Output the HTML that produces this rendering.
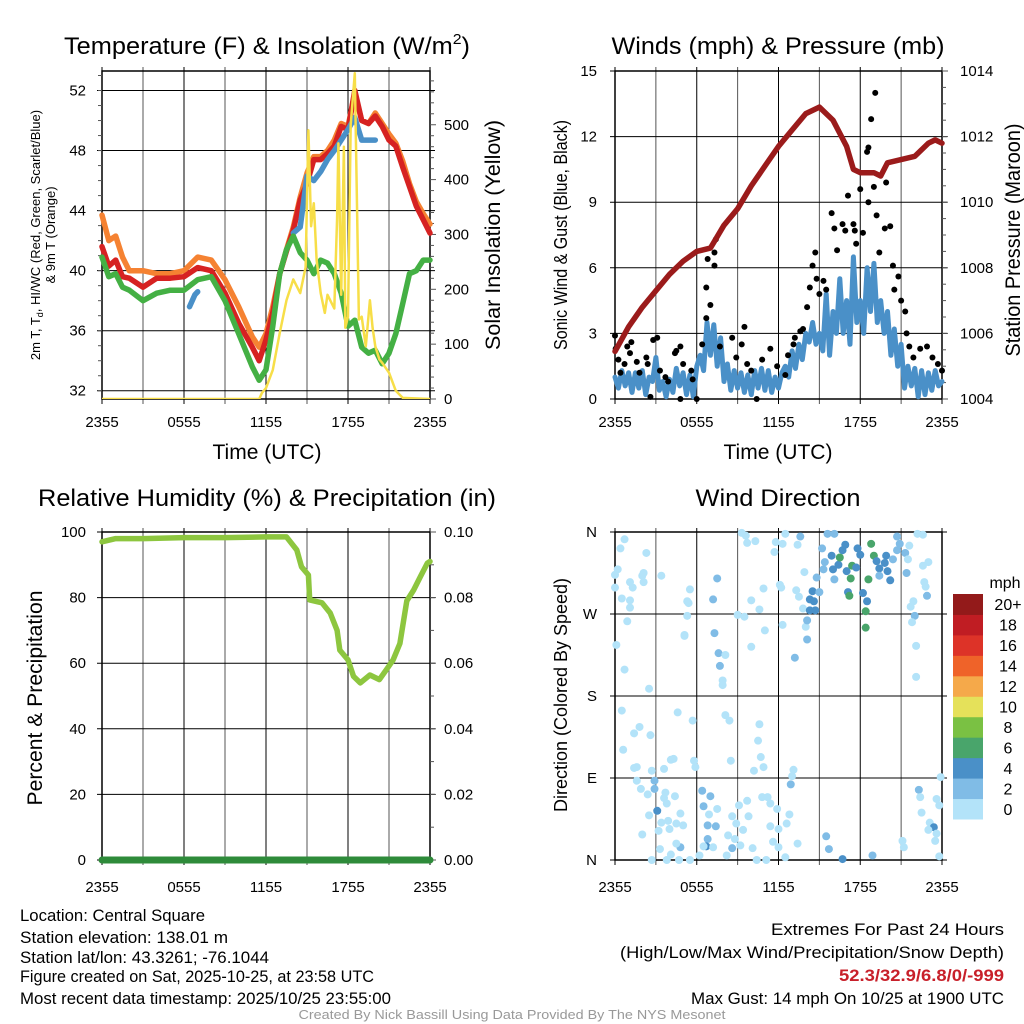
<!DOCTYPE html>
<html><head><meta charset="utf-8"><style>
html,body{margin:0;padding:0;background:#fff}
svg{display:block;font-family:"Liberation Sans",sans-serif}
</style></head><body>
<svg id="fig" width="1024" height="1024" viewBox="0 0 1024 1024" xmlns="http://www.w3.org/2000/svg">
<rect width="1024" height="1024" fill="#fff"/>
<g id="static" fill="#000">
<text x="267" y="54" font-size="24" text-anchor="middle" textLength="406" lengthAdjust="spacingAndGlyphs">Temperature (F) &amp; Insolation (W/m<tspan font-size="15" dy="-10">2</tspan><tspan dy="10">)</tspan></text>
<text x="778" y="54" font-size="24" text-anchor="middle" textLength="333" lengthAdjust="spacingAndGlyphs">Winds (mph) &amp; Pressure (mb)</text>
<text x="267" y="506" font-size="24" text-anchor="middle" textLength="458" lengthAdjust="spacingAndGlyphs">Relative Humidity (%) &amp; Precipitation (in)</text>
<text x="778" y="506" font-size="24" text-anchor="middle" textLength="165" lengthAdjust="spacingAndGlyphs">Wind Direction</text>
<text transform="translate(40,235) rotate(-90)" font-size="13" text-anchor="middle">2m T, T<tspan font-size="9" dy="3">d</tspan><tspan dy="-3">, HI/WC (Red, Green, Scarlet/Blue)</tspan></text>
<text transform="translate(55,235) rotate(-90)" font-size="13" text-anchor="middle">&amp; 9m T (Orange)</text>
<text transform="translate(500,235) rotate(-90)" font-size="21" text-anchor="middle" textLength="230" lengthAdjust="spacingAndGlyphs">Solar Insolation (Yellow)</text>
<text x="267" y="459" font-size="21" text-anchor="middle" textLength="109" lengthAdjust="spacingAndGlyphs">Time (UTC)</text>
<text x="778" y="459" font-size="21" text-anchor="middle" textLength="109" lengthAdjust="spacingAndGlyphs">Time (UTC)</text>
<text transform="translate(567,235) rotate(-90)" font-size="18" text-anchor="middle" textLength="230" lengthAdjust="spacingAndGlyphs">Sonic Wind &amp; Gust (Blue, Black)</text>
<text transform="translate(1020,240) rotate(-90)" font-size="21" text-anchor="middle" textLength="233" lengthAdjust="spacingAndGlyphs">Station Pressure (Maroon)</text>
<text transform="translate(42,698) rotate(-90)" font-size="21" text-anchor="middle" textLength="215" lengthAdjust="spacingAndGlyphs">Percent &amp; Precipitation</text>
<text transform="translate(567,695) rotate(-90)" font-size="18" text-anchor="middle" textLength="234" lengthAdjust="spacingAndGlyphs">Direction (Colored By Speed)</text>
<text x="1005" y="588" font-size="16" text-anchor="middle">mph</text>
<g font-size="16.5" lengthAdjust="spacingAndGlyphs">
<text x="20" y="921" textLength="185" lengthAdjust="spacingAndGlyphs">Location: Central Square</text>
<text x="20" y="943" textLength="208" lengthAdjust="spacingAndGlyphs">Station elevation: 138.01 m</text>
<text x="20" y="963" textLength="249" lengthAdjust="spacingAndGlyphs">Station lat/lon: 43.3261; -76.1044</text>
<text x="20" y="982" textLength="354" lengthAdjust="spacingAndGlyphs">Figure created on Sat, 2025-10-25, at 23:58 UTC</text>
<text x="20" y="1004" textLength="371" lengthAdjust="spacingAndGlyphs">Most recent data timestamp: 2025/10/25 23:55:00</text>
</g>
<g font-size="16.5" text-anchor="end">
<text x="1004" y="935" textLength="233" lengthAdjust="spacingAndGlyphs">Extremes For Past 24 Hours</text>
<text x="1004" y="958" textLength="384" lengthAdjust="spacingAndGlyphs">(High/Low/Max Wind/Precipitation/Snow Depth)</text>
<text x="1004" y="981" fill="#c8202a" font-weight="bold" textLength="165" lengthAdjust="spacingAndGlyphs">52.3/32.9/6.8/0/-999</text>
<text x="1004" y="1004" textLength="313" lengthAdjust="spacingAndGlyphs">Max Gust: 14 mph On 10/25 at 1900 UTC</text>
</g>
<text x="512" y="1019" font-size="12.5" fill="#999" text-anchor="middle" textLength="427" lengthAdjust="spacingAndGlyphs">Created By Nick Bassill Using Data Provided By The NYS Mesonet</text>
</g>
</svg>
<script>
// ---- data ----
const timeLabels=["2355","0555","1155","1755","2355"];
const tempTicks=[32,36,40,44,48,52];
const insolTicks=[0,100,200,300,400,500];
const windTicks=[0,3,6,9,12,15];
const presTicks=[1004,1006,1008,1010,1012,1014];
const rhTicks=[0,20,40,60,80,100];
const precipTicks=["0.00","0.02","0.04","0.06","0.08","0.10"];
const dirTicks=["N","E","S","W","N"];
const speedLabels=["0","2","4","6","8","10","12","14","16","18","20+"];
const speedColors=["#b3e3f9","#80bce6","#4a90c8","#49a56b","#7ac143","#e5e15a","#f5a94a","#ef6329","#dd3328","#c01d23","#931a1a"];

const tHours=[0,0.5,1,1.5,2,3,4,5,6,7,8,9,10,11,11.5,12,12.5,13,13.5,14,14.5,15,15.5,16,16.5,17,17.5,18,18.5,19,19.5,20,20.5,21,21.5,22,22.5,23,23.5,24];
const temp2m=[41.6,40.3,40.7,39.6,39.5,38.9,39.5,39.5,39.6,40.2,40,38.5,36.5,34.9,34,35.4,37.2,39.8,41.3,42.7,44.7,45.8,47.4,47.4,47.8,48.3,49.6,49.4,52,50,49.8,50.3,49.6,48.7,48.3,46.9,45.6,44.3,43.4,42.5];
const temp9m=[43.7,42,42.3,40.9,40,40,39.8,39.8,40,40.9,40.7,39.4,37.6,35.6,34.9,35.8,37.6,39.8,41.4,42.9,44.9,46.5,47.6,47.6,48,48.7,49.8,49.6,51.8,50,49.8,50.5,49.8,49.1,48.5,47.3,45.8,44.6,43.8,43.1];
const dewpt=[40.9,39.6,39.8,38.9,38.7,38,38.5,38.7,38.7,39.4,39.6,38,35.8,33.6,32.7,33.4,36.3,39.8,41.4,42.3,41.2,40.7,39.8,40.7,40.5,39.8,38.5,36.3,36.7,34.9,34.5,34.7,33.8,34.5,35.8,37.8,39.8,40,40.7,40.7];
const hiwcHours=[6.4,6.6,6.8,7.0,null,14,14.5,15,15.5,16,16.5,17,17.5,18,18.5,19,19.5,20];
const hiwcVals=[37.6,38,38.4,38.6,null,42.5,42.9,46.3,46,46.6,47.4,48,48.7,49.4,50.2,48.7,48.7,48.7];
const insHours=[0,11.5,11.7,12,12.5,13,13.5,14,14.5,14.9,15.1,15.3,15.5,15.7,16,16.3,16.5,17,17.2,17.3,17.5,17.7,17.8,18,18.2,18.5,18.8,19,19.3,19.6,19.8,20,20.3,20.5,21,21.5,22,24];
const insVals=[0,0,11,20,53,120,180,218,193,240,490,315,357,254,193,157,190,165,330,466,190,460,130,150,500,594,145,150,96,180,130,96,72,66,48,15,2,0];

const windHour0=0, windStep=0.25;
const windSpeed=[1.0,0.5,1.3,0.6,1.2,0.3,1.2,0.5,1.3,0.2,1.0,0.8,1.9,0.4,0.8,0.1,0.9,0.3,1.4,0.6,1.2,0.2,1.1,0.1,1.5,2.0,1.3,3.5,2.0,3.4,1.5,2.8,0.8,1.6,0.4,1.3,0.5,1.2,0.3,1.1,0.2,1.3,0.5,1.4,0.4,1.3,0.3,1.0,0.5,1.2,1.5,1.0,2.2,1.4,2.5,1.8,3.0,2.6,3.5,2.5,3.0,2.2,4.8,2.0,4.0,3.0,5.5,3.0,4.5,2.5,6.5,3.5,4.5,3.0,6.0,4.0,6.2,3.5,4.5,3.0,4.0,2.0,3.2,1.5,2.5,0.5,1.5,0.6,1.4,0.1,1.3,0.2,1.2,0.4,1.3,0.6,0.8];
const gustHours=[0,0.05,0.25,0.4,0.7,0.9,1.2,1.1,1.6,1.8,2.3,2.4,2.8,3.1,3.3,3.7,3.9,4.4,4.8,4.5,5.0,5.6,5.7,6.4,6.7,6.7,7.0,7.3,7.3,7.4,6.8,7.7,8.6,8.9,9.3,9.5,9.7,10.0,10.8,11.4,11.9,12.7,13.1,13.2,13.6,13.8,14.1,14.3,14.5,14.7,14.8,15.0,15.3,15.5,15.9,16.1,16.3,16.7,16.9,17.1,17.5,17.6,17.7,18.0,18.2,18.5,18.6,18.8,19.1,19.0,18.6,19.2,19.4,19.8,20.2,19.9,20.4,20.5,20.8,21.0,21.3,21.4,21.6,21.9,22.4,22.9,23.3,23.7,24.0,4.8,6.0,10.4,12.5,2.6];
const gustVals=[2.9,2.3,1.8,1.2,1.6,2.4,2.6,2.1,1.7,1.2,1.9,1.6,2.7,2.8,1.3,1.0,0.8,2.1,2.4,2.2,1.6,1.3,0.9,2.5,3.7,5.1,4.3,6.1,6.7,7.3,6.4,2.4,2.8,1.9,2.5,3.3,1.6,1.3,1.8,2.3,1.5,2.0,2.5,2.8,3.1,3.2,4.2,5.1,6.1,6.7,5.5,4.8,5.4,5.0,8.5,7.8,6.8,8.0,7.7,9.3,8.0,7.7,7.1,9.6,7.6,11.3,11.5,12.8,14.0,9.7,9.0,8.4,6.7,7.8,7.9,9.9,6.1,5.0,5.6,4.5,4.0,3.0,2.4,1.9,2.3,2.4,1.9,1.6,1.3,0,0,0,1.1,0.1];
const presHours=[0,1,2,3,4,5,6,7,8,9,10,11,12,13,14,15,16,17,17.5,18,19,19.5,20,21,22,23,23.5,24];
const presVals=[1005.45,1006.2,1006.8,1007.3,1007.8,1008.2,1008.5,1008.6,1009.3,1009.8,1010.5,1011.1,1011.7,1012.2,1012.7,1012.9,1012.5,1011.7,1011.0,1010.9,1010.9,1010.8,1011.2,1011.3,1011.4,1011.8,1011.9,1011.8];

const rhHours=[0,1,3,6,9,12,13.5,14.25,14.6,15.1,15.2,16.1,16.7,17.2,17.4,18,18.4,18.9,19.6,20.3,20.8,21.3,21.8,22.3,22.8,23.3,23.8,24];
const rhVals=[97,98,98,98.3,98.3,98.5,98.5,94.5,89.4,86.9,79.3,78.4,75.3,70,64,61,56,54,56.4,55,58,61,66,79,82.3,86.4,90.5,91];
const precipHours=[0,24];
const precipVals=[0,0];

const dirHours=[0.7,0.4,2.3,0.2,0,2.1,2.0,3.4,1.1,1.3,2.1,0,0.5,1.1,1.1,5.5,5.3,5.4,7.5,7.2,5.3,0.9,5.1,5.1,0.1,7.3,7.6,8.1,7.7,7.9,7.9,0.7,2.5,9.3,9.6,9.7,10.3,10.9,10.0,10.6,9.0,9.5,11.0,10.0,11.7,11.8,12.3,12.5,12.1,12.2,12.3,13.3,13.5,13.6,13.4,13.9,13.8,14.0,14.1,14.1,13.2,14.3,14.5,14.3,14.7,14.6,14.8,15.0,15.2,15.3,15.4,15.6,16.1,15.9,16.0,16.4,16.5,16.7,16.9,16.1,17.0,17.1,17.2,17.3,17.4,17.7,17.8,18.0,18.2,18.5,18.4,18.4,18.6,18.8,19.0,19.2,19.4,19.8,19.9,20.0,20.2,19.4,20.4,20.7,20.7,20.9,21.3,21.4,21.5,21.6,21.9,22.0,21.8,21.7,22.1,22.1,22.2,22.6,23.0,22.6,22.7,22.8,22.9,23.9,
0.5,1.8,1.4,2.6,0.6,1.4,1.6,2.7,3.6,4.1,4.3,4.6,5.7,8.1,8.4,10.6,10.5,10.7,10.9,10.2,8.5,5.8,5.9,13.1,13.0,12.9,2.9,1.6,2.9,1.9,2.4,3.6,3.7,4.4,3.8,3.1,2.5,3.4,3.9,4.5,5.0,4.0,3.2,2.0,4.8,6.4,7.0,6.5,6.9,7.5,6.8,7.4,6.8,6.7,6.5,7.2,4.8,4.5,3.3,4.1,3.8,2.7,4.7,5.5,6.2,8.2,8.3,8.8,8.6,9.2,8.9,9.4,8.6,9.1,9.8,9.7,10.8,11.2,11.4,11.9,12.8,12.6,12.0,11.4,10.1,10.4,11.1,11.6,12.0,12.5,13.4,15.5,15.7,16.7,18.9,21.1,21.2,22.3,22.4,22.5,23.1,23.4,23.0,23.6,23.5,23.6,23.8,23.8];
const dirDegrees=[352,342,337,319,313,315,312,312,305,299,305,299,287,285,277,297,284,282,309,286,268,262,247,246,236,249,227,225,213,197,192,209,188,359,356,348,350,298,285,275,269,267,252,234,338,349,347,358,302,299,258,296,289,355,346,316,276,256,263,242,222,286,295,274,274,284,310,294,342,319,327,358,358,334,319,324,332,340,346,308,317,294,290,309,323,321,342,335,293,284,273,255,308,347,334,328,320,326,334,317,307,312,330,355,340,347,337,315,330,345,284,268,261,278,235,201,358,357,327,323,305,300,290,91,
164,146,139,137,121,101,102,98,100,110,111,162,153,159,153,149,131,113,102,98,109,109,102,99,92,83,87,87,78,78,72,68,74,70,62,54,49,41,43,40,38,34,32,28,51,76,70,59,50,56,38,37,23,15,15,14,14,18,12,6,0,0,0,0,5,5,27,23,13,16,40,33,48,60,48,65,69,69,62,56,50,40,34,37,13,0,0,20,14,3,18,26,12,1,5,21,14,77,69,52,41,36,33,29,21,67,60,4];
const dirSpeeds=[1,1,1,1,1,1,1,1,1,1,1,1,1,1,1,1,1,1,3,3,1,1,1,1,1,3,3,1,3,1,1,1,1,1,1,1,1,1,1,1,1,1,1,1,1,1,1,1,1,1,1,1,1,3,1,1,1,1,3,3,3,5,5,5,5,5,3,3,3,3,3,3,3,5,5,5,7,5,5,3,5,5,7,7,7,5,5,5,5,5,7,7,7,7,7,5,5,5,5,5,5,3,3,3,3,3,3,3,1,1,1,3,1,1,1,1,1,1,1,1,1,1,3,1,
1,1,1,1,1,1,1,1,1,1,1,1,1,1,1,1,1,1,1,1,1,1,1,1,1,3,3,1,3,1,1,1,1,1,1,5,1,1,1,1,1,1,1,1,1,3,3,3,1,1,3,3,3,5,1,1,3,1,1,1,1,1,1,1,1,1,1,1,3,1,1,1,1,1,1,1,1,1,1,1,1,1,1,1,1,1,1,1,1,1,1,3,3,5,3,1,1,3,1,1,1,5,1,1,1,1,1,1];

// ---- drawing ----
const NS="http://www.w3.org/2000/svg";
const svg=document.getElementById('fig');
function el(tag,attrs,parent){const e=document.createElementNS(NS,tag);for(const k in attrs)e.setAttribute(k,attrs[k]);(parent||svg).appendChild(e);return e;}
const P1={x0:102,x1:430,y0:71,y1:399}, P2={x0:615,x1:942,y0:71,y1:399};
const P3={x0:102,x1:430,y0:532,y1:860}, P4={x0:615,x1:942,y0:532,y1:860};
function xs(P){return h=>P.x0+(P.x1-P.x0)*h/24;}
function ys(P,lo,hi){return v=>P.y1-(P.y1-P.y0)*(v-lo)/(hi-lo);}

function grid(P,yvals,ysc,name){
  const g=el('g',{stroke:'#000','stroke-width':1});
  
  
  const X=xs(P);
  for(let h=0;h<=24;h+=3){el('line',{x1:X(h),x2:X(h),y1:P.y0-4,y2:P.y1+5,stroke:(h%6==0)?'#000':'#555'},g);}
  yvals.forEach(v=>el('line',{x1:P.x0-5,x2:P.x1+5,y1:ysc(v),y2:ysc(v)},g));
  const b=el('rect',{x:P.x0,y:P.y0,width:P.x1-P.x0,height:P.y1-P.y0,fill:'none',stroke:'#000','stroke-width':1.5});
  
  
}
function xlabels(P,y){
  const X=xs(P);
  timeLabels.forEach((t,i)=>{const e=el('text',{x:X(i*6),y:y,'font-size':15,'text-anchor':'middle'});e.textContent=t;
    
    });
}
function ylabels(vals,ysc,x,anchor,fmt){
  vals.forEach(v=>{const e=el('text',{x:x,y:ysc(typeof v==='string'?parseFloat(v):v)+5,'font-size':15,'text-anchor':anchor});e.textContent=fmt?fmt(v):v;
    
    });
}
function path(hours,vals,X,Y,attrs,name){
  let d='',pen=false;
  for(let i=0;i<hours.length;i++){if(hours[i]===null||vals[i]===null){pen=false;continue;}
    d+=(pen?'L':'M')+X(hours[i]).toFixed(1)+','+Y(vals[i]).toFixed(1);pen=true;}
  const p=el('path',Object.assign({d:d,fill:'none','stroke-linejoin':'round','stroke-linecap':'round'},attrs));
  
  
  return p;
}
function clip(P,id){const c=el('clipPath',{id:id});el('rect',{x:P.x0,y:P.y0,width:P.x1-P.x0,height:P.y1-P.y0},c);}

// Panel 1
{const X=xs(P1),Y=ys(P1,31.45,53.3),YI=ys(P1,0,598);
grid(P1,tempTicks,Y,'temperature');
for(let w=0;w<=580;w+=20){el('line',{x1:P1.x1,x2:P1.x1+(w%100==0?6:4),y1:YI(w),y2:YI(w),stroke:'#555'});}
for(let t=32;t<=53;t++){el('line',{x1:P1.x0-4,x2:P1.x0,y1:Y(t),y2:Y(t),stroke:'#555'});}
ylabels(tempTicks,Y,86,'end');ylabels(insolTicks,YI,444,'start');xlabels(P1,427);
clip(P1,'c1');
path(tHours,temp9m,X,Y,{stroke:'#f58232','stroke-width':5.5},'series-9m-temp');
path(tHours,temp2m,X,Y,{stroke:'#d62222','stroke-width':5.5},'series-2m-temp');
path(hiwcHours,hiwcVals,X,Y,{stroke:'#4a90c8','stroke-width':5.5},'series-heat-index-wind-chill');
path(tHours,dewpt,X,Y,{stroke:'#44b044','stroke-width':5.5},'series-dewpoint');
path(insHours,insVals,X,YI,{stroke:'#f7de48','stroke-width':2.5,'clip-path':'url(#c1)'},'series-insolation');}

// Panel 2
{const X=xs(P2),Y=ys(P2,0,15),YP=ys(P2,1004,1014);
grid(P2,windTicks,Y,'wind');
for(let p=1004;p<=1014;p+=0.5){el('line',{x1:P2.x1,x2:P2.x1+(p%2==0?6:4),y1:YP(p),y2:YP(p),stroke:'#555'});}
ylabels(windTicks,Y,597,'end');ylabels(presTicks,YP,960,'start');xlabels(P2,427);
const wh=windSpeed.map((v,i)=>windHour0+i*windStep);
path(wh,windSpeed,X,Y,{stroke:'#4a90c8','stroke-width':5},'series-sonic-wind');
gustHours.forEach((h,i)=>{const c=el('circle',{cx:X(h),cy:Y(gustVals[i]),r:3,fill:'#000'});
  
  });
path(presHours,presVals,X,YP,{stroke:'#9b1b1b','stroke-width':5.5},'series-pressure');}

// Panel 3
{const X=xs(P3),Y=ys(P3,0,100),YR=ys(P3,0,0.1);
grid(P3,rhTicks,Y,'humidity');
for(let p=0;p<=10;p++){el('line',{x1:P3.x1,x2:P3.x1+(p%2==0?6:4),y1:YR(p/100),y2:YR(p/100),stroke:'#555'});}
ylabels(rhTicks,Y,86,'end');ylabels(precipTicks,YR,444,'start');xlabels(P3,892);
path(rhHours,rhVals,X,Y,{stroke:'#8dc63f','stroke-width':5.5},'series-relative-humidity');
path(precipHours,precipVals,X,YR,{stroke:'#2e8b3a','stroke-width':7},'series-precipitation');}

// Panel 4
{const X=xs(P4),Y=ys(P4,0,360);
grid(P4,[0,90,180,270,360],Y,'direction');
dirTicks.forEach((t,i)=>{const e=el('text',{x:597,y:Y(i*90)+5,'font-size':15,'text-anchor':'end'});e.textContent=t;
  
  });
xlabels(P4,892);
dirHours.forEach((h,i)=>{const s=dirSpeeds[i];const ci=Math.min(10,Math.floor(s/2));
  const c=el('circle',{cx:X(h),cy:Y(dirDegrees[i]),r:4,fill:speedColors[ci]});
  
  });
const cb=el('g',{});


const cbx=953,cbTop=594,cbBot=819,n=speedColors.length,bh=(cbBot-cbTop)/n;
speedColors.forEach((c,i)=>{el('rect',{x:cbx,y:cbBot-(i+1)*bh,width:30,height:bh+0.5,fill:c},cb);
  const t=el('text',{x:1008,y:cbBot-(i+0.5)*bh+6,'font-size':16,'text-anchor':'middle'},cb);t.textContent=speedLabels[i];
  
  });}
</script>
</body></html>
